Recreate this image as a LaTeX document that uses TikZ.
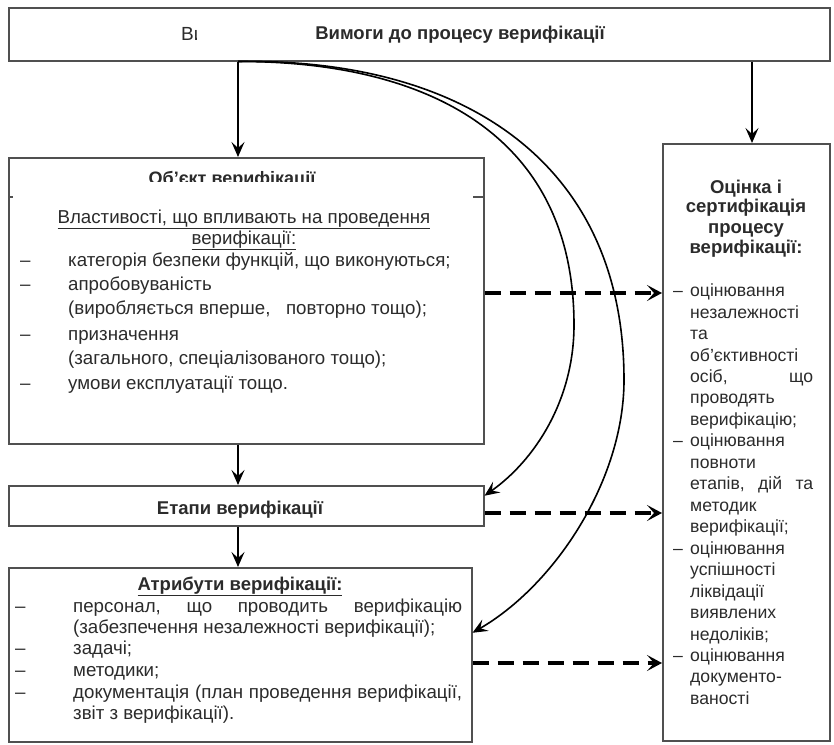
\documentclass[tikz,border=0pt]{standalone}
\usepackage{fontspec}
\setmainfont{Liberation Sans}
\usetikzlibrary{arrows.meta}
\definecolor{txt}{HTML}{2B2B2B}
\definecolor{brd}{HTML}{505050}
\newcommand\fsn{\fontsize{18.7}{21}\selectfont}
\newcommand\fsr{\fontsize{17.6}{20}\selectfont}
\newcommand\fst{\fontsize{18.5}{21}\selectfont\bfseries}
\newcommand\jl[2]{\hbox to #1{#2}}
\begin{document}
\begin{tikzpicture}[x=1pt,y=-1pt,
 box/.style={draw=brd, line width=1.5pt, anchor=north west, inner sep=0pt, fill=white},
 t/.style={anchor=base west, inner sep=0pt, text=txt, font=\fsn},
 tr/.style={t, font=\fsr},
 tc/.style={anchor=base, inner sep=0pt, text=txt, font=\fsn},
 tb/.style={tc, font=\fst},
 arr/.style={line width=1.6pt, -{Stealth[length=15pt,width=13pt,inset=6pt]}},
 darr/.style={line width=3.2pt, dash pattern=on 16pt off 9pt, -{Stealth[length=15pt,width=16pt,inset=7pt]}},
 tick/.style={draw=brd, line width=1.5pt},
]
\useasboundingbox (0,0) rectangle (834,744);
\fill[white] (0,0) rectangle (834,744);

% boxes
\node[box, minimum width=821pt, minimum height=53pt] (req) at (8,7) {};
\node[box, minimum width=475pt, minimum height=286pt] (obj) at (8,157) {};
\node[box, minimum width=475pt, minimum height=40pt] (etp) at (8,485) {};
\node[box, minimum width=463pt, minimum height=174pt] (atr) at (8,567) {};
\node[box, minimum width=167pt, minimum height=597pt] (oc) at (662,143) {};

% helper coordinates
\coordinate (ax) at (238,0);
\coordinate (bx) at (752,0);
\coordinate (d1) at (0,293);
\coordinate (d2) at (0,513);
\coordinate (d3) at (0,663);

% top box texts
\begin{scope}
\clip (170,15) rectangle (196.5,55);
\node[t, font=\fontsize{19}{20}\selectfont] (stray) at (181,40) {Ви};
\end{scope}
\node[tb] (reqt) at (460,39) {Вимоги до процесу верифікації};

% straight arrows
\draw[arr] (ax |- req.south) -- (ax |- obj.north);
\draw[arr] (bx |- req.south) -- (bx |- oc.north);
\draw[arr] (ax |- obj.south) -- (ax |- etp.north);
\draw[arr] (ax |- etp.south) -- (ax |- atr.north);

% dashed arrows
\draw[darr] (d1 -| obj.east) -- (d1 -| oc.west);
\draw[darr] (d2 -| etp.east) -- (d2 -| oc.west);
\draw[darr] (d3 -| atr.east) -- (d3 -| oc.west);

% curved arrows
\coordinate (cs) at (ax |- req.south);
\draw[arr] (cs) .. controls (420,61) and (574,130) .. (574,325)
  .. controls (574,400) and (535,460) .. ([yshift=10pt]etp.east);
\draw[arr] (cs) .. controls (460,58) and (624,160) .. (624,380)
  .. controls (624,480) and (555,585) .. ([yshift=22pt]atr.east);

% object box
\begin{scope}
\clip (100,160) rectangle (400,181.5);
\node[tc, font=\fontsize{18}{20}\selectfont\bfseries] (objt) at (232,184) {Об'єкт верифікації};
\end{scope}
\draw[tick] (8,197) -- (13,197);
\draw[tick] (473,197) -- (483,197);
\node[tc] (o1) at (244,223) {\underline{Властивості, що впливають на проведення}};
\node[tc] (o2) at (244,244) {\underline{верифікації:}};
\node[t] at (20,266) {–};
\node[t] at (68,266) {категорія безпеки функцій, що виконуються;};
\node[t] at (20,290) {–};
\node[t] at (68,290) {апробовуваність};
\node[t] at (68,314) {(виробляється вперше, \ \ повторно тощо);};
\node[t] at (20,340) {–};
\node[t] at (68,340) {призначення};
\node[t] at (68,364) {(загального, спеціалізованого тощо);};
\node[t] at (20,389) {–};
\node[t] at (68,389) {умови експлуатації тощо.};

% stages
\node[tb] (etpt) at (240,514) {Етапи верифікації};

% attributes
\node[tb] (atrt) at (240,590) {\underline{Атрибути верифікації:}};
\node[t] at (15,612) {–};
\node[t] at (73,612) {\jl{389pt}{персонал,\hfill що\hfill проводить\hfill верифікацію}};
\node[t] at (73,633) {(забезпечення незалежності верифікації);};
\node[t] at (15,654) {–};
\node[t] at (73,654) {задачі;};
\node[t] at (15,676) {–};
\node[t] at (73,676) {методики;};
\node[t] at (15,698) {–};
\node[t] at (73,698) {\jl{389pt}{документація\hfill (план\hfill проведення\hfill верифікації,}};
\node[t] at (73,719) {звіт з верифікації).};

% assessment box
\node[tb] at (746,193) {Оцінка і};
\node[tb] at (746,212) {сертифікація};
\node[tb] at (746,233) {процесу};
\node[tb] at (746,253) {верифікації:};
\foreach \y in {296,446,554,661} \node[tr] at (673,\y) {–};
\node[tr] at (690,296) {оцінювання};
\node[tr] at (690,318) {незалежності};
\node[tr] at (690,339) {та};
\node[tr] at (690,361) {об’єктивності};
\node[tr] at (690,382) {\jl{123pt}{осіб,\hfill що}};
\node[tr] at (690,403) {проводять};
\node[tr] at (690,425) {верифікацію;};
\node[tr] at (690,446) {оцінювання};
\node[tr] at (690,468) {повноти};
\node[tr] at (690,489) {\jl{123pt}{етапів,\hfill дій\hfill та}};
\node[tr] at (690,511) {методик};
\node[tr] at (690,532) {верифікації;};
\node[tr] at (690,554) {оцінювання};
\node[tr] at (690,575) {успішності};
\node[tr] at (690,597) {ліквідації};
\node[tr] at (690,618) {виявлених};
\node[tr] at (690,640) {недоліків;};
\node[tr] at (690,661) {оцінювання};
\node[tr] at (690,682) {документо-};
\node[tr] at (690,704) {ваності};
\end{tikzpicture}
\end{document}
